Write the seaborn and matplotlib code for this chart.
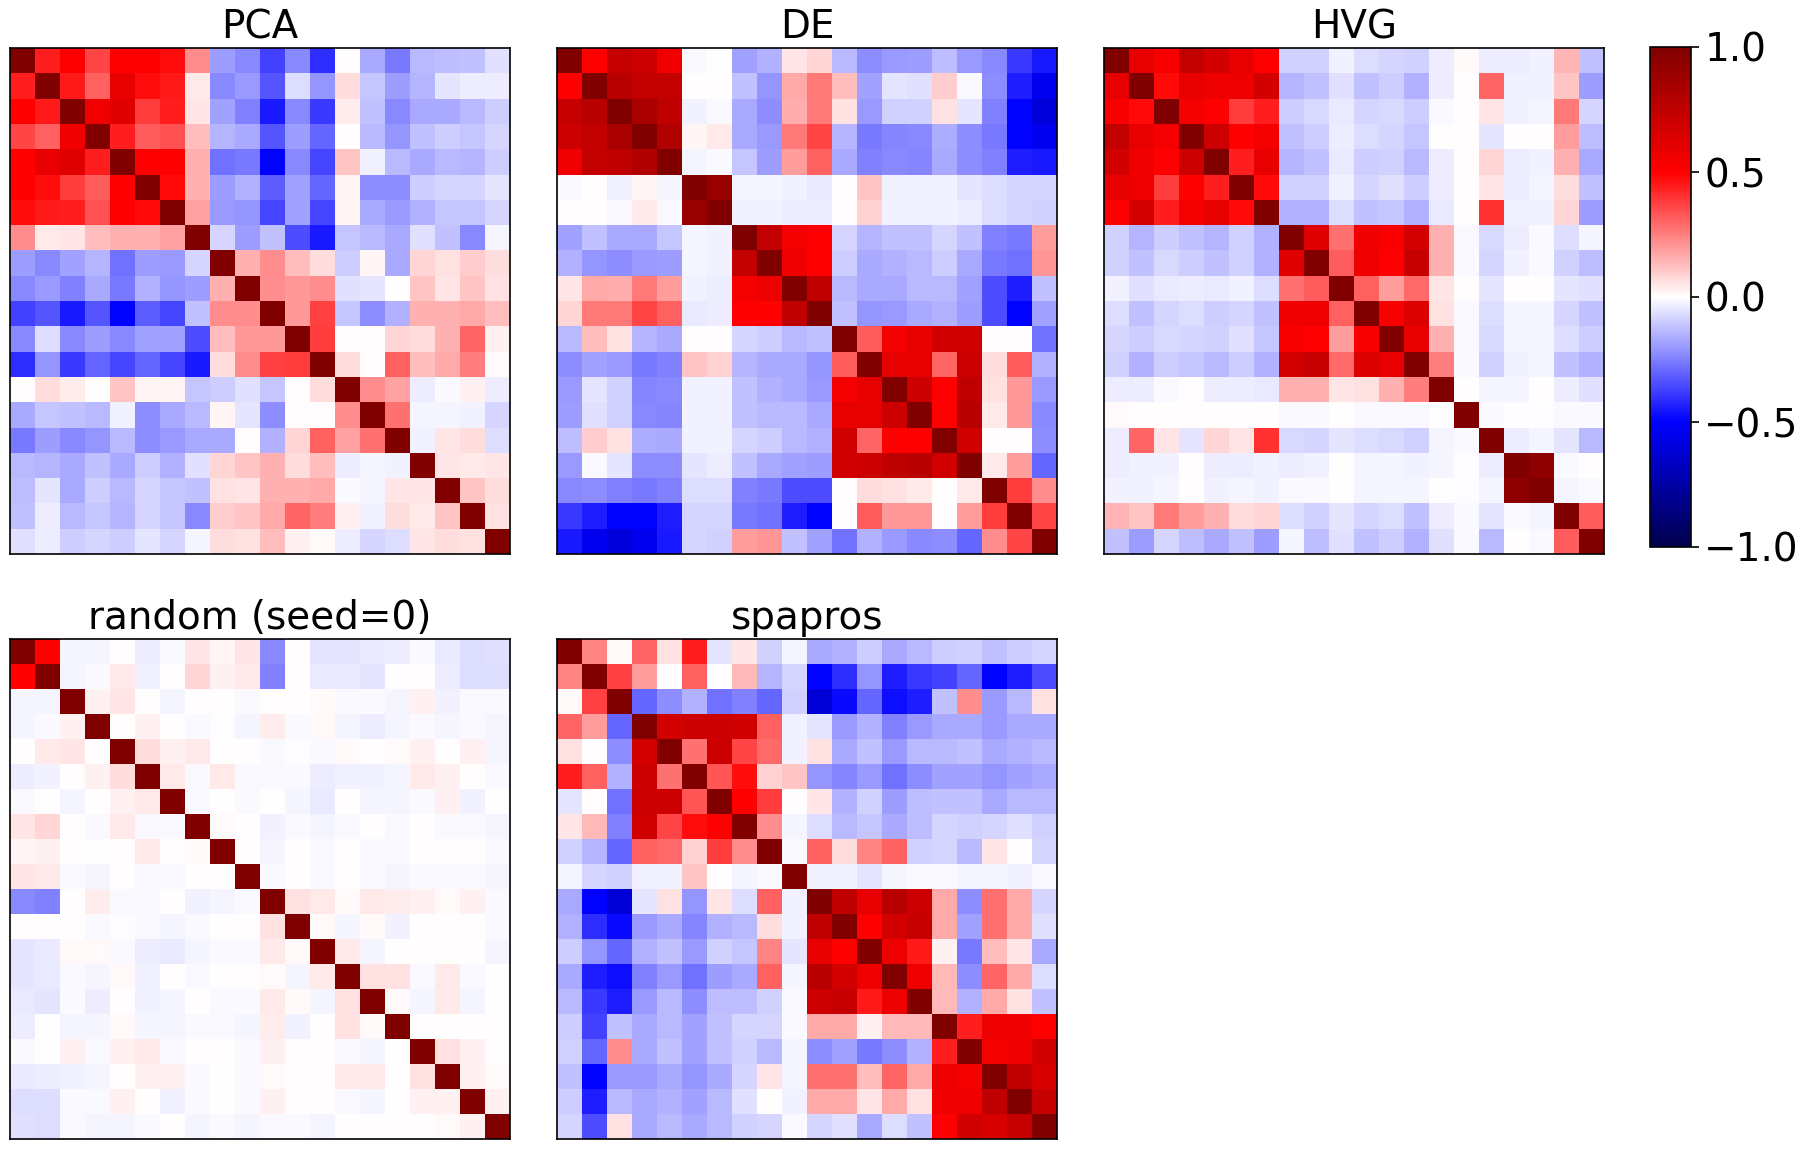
import numpy as np
import matplotlib
matplotlib.use("Agg")
import matplotlib.pyplot as plt
import seaborn as sns

sns.set_style("white")
plt.rcParams['font.family'] = ['DejaVu Sans']
plt.rcParams['text.color'] = 'black'
plt.rcParams['axes.labelcolor'] = 'black'
plt.rcParams['xtick.color'] = 'black'
plt.rcParams['ytick.color'] = 'black'

N = 20
titles = ["PCA", "DE", "HVG", "random (seed=0)", "spapros"]

# Upper triangles (row i holds columns i+1..19); diagonal is 1.
pca_upper = [
    [0.44, 0.5, 0.36, 0.5, 0.5, 0.47, 0.22, -0.19, -0.23, -0.375, -0.23, -0.41, 0.0, -0.17, -0.26, -0.14, -0.13, -0.12, -0.06],
    [0.45, 0.31, 0.59, 0.47, 0.45, 0.04, -0.23, -0.2, -0.33, -0.07, -0.21, 0.07, -0.11, -0.19, -0.145, -0.05, -0.035, -0.035],
    [0.56, 0.62, 0.375, 0.44, 0.05, -0.18, -0.25, -0.45, -0.23, -0.39, 0.035, -0.125, -0.23, -0.17, -0.17, -0.14, -0.1],
    [0.44, 0.32, 0.34, 0.13, -0.145, -0.17, -0.33, -0.19, -0.3, 0.0, -0.14, -0.21, -0.12, -0.1, -0.11, -0.08],
    [0.5, 0.5, 0.155, -0.28, -0.26, -0.5, -0.23, -0.36, 0.11, -0.03, -0.14, -0.17, -0.14, -0.145, -0.1],
    [0.48, 0.155, -0.19, -0.155, -0.32, -0.18, -0.3, 0.02, -0.22, -0.22, -0.1, -0.08, -0.08, -0.05],
    [0.18, -0.2, -0.21, -0.36, -0.18, -0.36, 0.02, -0.17, -0.2, -0.155, -0.11, -0.11, -0.085],
    [-0.08, -0.19, -0.125, -0.35, -0.45, -0.11, -0.14, -0.17, -0.06, -0.125, -0.23, -0.02],
    [0.15, 0.225, 0.125, 0.07, -0.1, 0.02, -0.17, 0.08, 0.06, 0.1, 0.07],
    [0.225, 0.2, 0.225, -0.06, -0.05, 0.0, 0.115, 0.05, 0.11, 0.06],
    [0.2, 0.37, -0.115, -0.22, -0.155, 0.155, 0.15, 0.165, 0.125],
    [0.375, 0.0, 0.0, 0.08, 0.07, 0.155, 0.3, 0.03],
    [0.07, 0.0, 0.31, 0.125, 0.17, 0.25, 0.01],
    [0.22, 0.18, -0.035, -0.015, 0.03, -0.035],
    [0.28, -0.02, -0.02, -0.03, -0.085],
    [-0.03, 0.05, 0.065, -0.07],
    [0.05, 0.04, 0.05],
    [0.115, 0.07],
    [0.06],
]

de_upper = [
    [0.5, 0.72, 0.7, 0.56, -0.015, 0.0, -0.18, -0.15, 0.05, 0.085, -0.135, -0.22, -0.2, -0.19, -0.13, -0.2, -0.23, -0.385, -0.45],
    [0.78, 0.73, 0.73, 0.0, 0.0, -0.125, -0.21, 0.165, 0.265, 0.125, -0.18, -0.05, -0.06, 0.1, -0.015, -0.22, -0.44, -0.54],
    [0.83, 0.75, -0.03, -0.015, -0.17, -0.22, 0.16, 0.265, 0.06, -0.2, -0.09, -0.09, 0.06, -0.05, -0.25, -0.5, -0.6],
    [0.81, 0.02, 0.04, -0.17, -0.2, 0.265, 0.36, -0.145, -0.265, -0.24, -0.23, -0.16, -0.22, -0.26, -0.5, -0.54],
    [-0.02, -0.015, -0.11, -0.19, 0.19, 0.31, -0.17, -0.25, -0.23, -0.24, -0.165, -0.22, -0.25, -0.44, -0.45],
    [0.9, -0.02, -0.02, -0.03, -0.045, 0.0, 0.11, -0.03, -0.03, -0.03, -0.05, -0.07, -0.08, -0.085],
    [-0.03, -0.03, -0.035, -0.035, 0.0, 0.09, -0.03, -0.03, -0.03, -0.035, -0.07, -0.08, -0.09],
    [0.73, 0.54, 0.5, -0.085, -0.145, -0.125, -0.12, -0.085, -0.125, -0.25, -0.265, 0.19],
    [0.57, 0.5, -0.1, -0.17, -0.155, -0.14, -0.1, -0.165, -0.265, -0.28, 0.21],
    [0.75, -0.14, -0.17, -0.17, -0.135, -0.135, -0.18, -0.35, -0.44, -0.125],
    [-0.12, -0.21, -0.2, -0.17, -0.155, -0.19, -0.35, -0.5, -0.18],
    [0.32, 0.54, 0.59, 0.68, 0.68, 0.0, 0.0, -0.28],
    [0.6, 0.6, 0.3, 0.7, 0.07, 0.32, -0.15],
    [0.7, 0.5, 0.75, 0.06, 0.2, -0.2],
    [0.5, 0.78, 0.04, 0.2, -0.23],
    [0.68, 0.0, 0.0, -0.22],
    [0.04, 0.19, -0.3],
    [0.375, 0.22],
    [0.36],
]

hvg_upper = [
    [0.6, 0.53, 0.73, 0.67, 0.6, 0.5, -0.09, -0.09, -0.03, -0.07, -0.08, -0.09, -0.035, 0.015, -0.035, -0.035, -0.03, 0.145, -0.125],
    [0.48, 0.59, 0.57, 0.57, 0.67, -0.145, -0.125, -0.06, -0.12, -0.1, -0.15, -0.035, 0.0, 0.3, -0.03, -0.03, 0.11, -0.19],
    [0.54, 0.5, 0.375, 0.44, -0.1, -0.075, -0.045, -0.08, -0.075, -0.095, -0.015, 0.0, 0.05, -0.03, -0.02, 0.265, -0.08],
    [0.7, 0.5, 0.54, -0.125, -0.1, -0.035, -0.07, -0.08, -0.11, 0.0, 0.0, -0.05, 0.0, 0.0, 0.19, -0.13],
    [0.44, 0.59, -0.145, -0.12, -0.045, -0.1, -0.09, -0.135, -0.035, 0.0, 0.085, -0.035, -0.03, 0.155, -0.17],
    [0.48, -0.09, -0.09, -0.03, -0.08, -0.06, -0.1, -0.035, 0.0, 0.05, -0.035, -0.02, 0.07, -0.125],
    [-0.15, -0.15, -0.07, -0.125, -0.11, -0.155, -0.045, 0.0, 0.4, -0.03, -0.03, 0.085, -0.19],
    [0.62, 0.28, 0.56, 0.53, 0.67, 0.155, -0.015, -0.075, -0.035, -0.015, -0.07, -0.02],
    [0.32, 0.57, 0.5, 0.72, 0.155, -0.015, -0.08, -0.03, -0.015, -0.09, -0.13],
    [0.31, 0.195, 0.29, 0.05, 0.0, -0.05, 0.0, 0.0, -0.05, -0.06],
    [0.53, 0.64, 0.06, -0.015, -0.07, -0.02, -0.02, -0.08, -0.12],
    [0.59, 0.155, -0.015, -0.075, -0.02, -0.02, -0.07, -0.1],
    [0.25, -0.015, -0.09, -0.03, -0.02, -0.12, -0.155],
    [0.0, -0.02, -0.02, 0.0, -0.035, -0.06],
    [-0.015, -0.005, -0.005, -0.015, -0.015],
    [-0.035, -0.02, -0.05, -0.135],
    [0.94, -0.015, 0.0],
    [-0.02, -0.015],
    [0.32],
]

random_upper = [
    [0.5, -0.02, -0.02, 0.0, -0.035, -0.015, 0.05, 0.02, 0.05, -0.23, 0.0, -0.05, -0.05, -0.045, -0.035, -0.015, -0.045, -0.07, -0.06],
    [-0.02, -0.015, 0.04, -0.03, 0.0, 0.08, 0.03, 0.04, -0.25, 0.0, -0.045, -0.045, -0.05, 0.0, 0.0, -0.035, -0.07, -0.07],
    [0.03, 0.05, 0.0, -0.02, 0.0, 0.0, -0.01, 0.0, 0.0, 0.015, -0.015, -0.015, -0.02, 0.025, -0.03, -0.015, -0.015],
    [0.0, 0.025, 0.0, -0.015, -0.005, -0.02, 0.035, -0.015, 0.015, -0.02, -0.035, -0.02, -0.015, -0.02, -0.015, -0.02],
    [0.065, 0.03, 0.04, 0.0, 0.0, -0.015, -0.005, -0.015, 0.01, 0.0, 0.015, 0.025, 0.0, 0.03, -0.02],
    [0.04, -0.015, 0.045, -0.015, -0.015, -0.015, -0.035, -0.03, -0.03, -0.02, 0.045, 0.025, 0.0, -0.01],
    [-0.01, 0.0, -0.01, 0.0, -0.02, -0.045, 0.0, -0.02, -0.02, -0.01, 0.025, -0.03, 0.0],
    [0.015, 0.0, -0.03, -0.015, -0.02, -0.015, 0.0, -0.01, 0.0, -0.01, -0.01, -0.02],
    [0.0, -0.02, 0.0, -0.01, 0.0, -0.01, -0.01, 0.0, 0.0, 0.0, -0.01],
    [-0.015, 0.0, -0.01, 0.0, -0.015, -0.02, -0.015, -0.015, -0.015, -0.02],
    [0.06, 0.045, 0.015, 0.04, 0.035, 0.025, 0.015, 0.025, -0.01],
    [0.015, -0.02, 0.015, -0.03, 0.0, 0.0, 0.0, -0.01],
    [0.045, -0.02, 0.0, 0.0, 0.0, 0.0, -0.02],
    [0.06, 0.06, -0.015, 0.04, -0.015, 0.0],
    [0.015, -0.02, 0.04, -0.02, 0.0],
    [0.0, 0.0, 0.0, 0.0],
    [0.06, 0.03, 0.0],
    [0.025, 0.015],
    [0.025],
]

spapros_upper = [
    [0.235, 0.015, 0.3, 0.06, 0.44, -0.05, 0.05, -0.09, -0.02, -0.17, -0.15, -0.1, -0.17, -0.135, -0.1, -0.09, -0.125, -0.1, -0.08],
    [0.37, 0.19, 0.0, 0.31, 0.0, 0.14, -0.145, -0.08, -0.5, -0.41, -0.21, -0.44, -0.39, -0.375, -0.3, -0.5, -0.44, -0.35],
    [-0.3, -0.22, -0.155, -0.28, -0.25, -0.3, -0.09, -0.61, -0.48, -0.3, -0.47, -0.44, -0.125, 0.225, -0.2, -0.14, 0.06],
    [0.67, 0.7, 0.7, 0.68, 0.31, -0.03, -0.05, -0.2, -0.15, -0.25, -0.2, -0.165, -0.165, -0.2, -0.165, -0.165],
    [0.28, 0.7, 0.36, 0.29, -0.03, 0.06, -0.165, -0.12, -0.2, -0.135, -0.14, -0.125, -0.17, -0.15, -0.135],
    [0.33, 0.47, 0.09, 0.11, -0.21, -0.24, -0.2, -0.28, -0.22, -0.18, -0.18, -0.21, -0.18, -0.165],
    [0.5, 0.375, 0.0, 0.05, -0.15, -0.09, -0.19, -0.13, -0.125, -0.12, -0.165, -0.14, -0.135],
    [0.225, -0.02, -0.07, -0.135, -0.11, -0.17, -0.13, -0.08, -0.09, -0.08, -0.06, -0.09],
    [-0.01, 0.31, 0.07, 0.235, 0.31, -0.09, -0.085, -0.14, 0.05, 0.0, -0.08],
    [-0.03, -0.03, -0.05, -0.02, -0.015, -0.015, -0.02, -0.02, -0.03, -0.015],
    [0.75, 0.59, 0.78, 0.7, 0.165, -0.22, 0.28, 0.17, -0.08],
    [0.5, 0.67, 0.72, 0.165, -0.18, 0.28, 0.17, -0.06],
    [0.57, 0.45, 0.025, -0.265, 0.125, 0.05, -0.17],
    [0.57, 0.14, -0.22, 0.3, 0.17, -0.07],
    [0.135, -0.155, 0.17, 0.06, -0.125],
    [0.44, 0.57, 0.57, 0.5],
    [0.54, 0.56, 0.68],
    [0.75, 0.66],
    [0.72],
]


def build(upper):
    m = np.eye(N)
    for i, row in enumerate(upper):
        m[i, i + 1:] = row
        m[i + 1:, i] = row
    return m


mats = [build(u) for u in (pca_upper, de_upper, hvg_upper, random_upper, spapros_upper)]

W, H = 1804, 1155
fig = plt.figure(figsize=(W / 100, H / 100), dpi=100)

lefts = [10, 557, 1104]
top_rect = (48, 554)
bot_rect = (639, 1139)
rects = [
    (lefts[0], top_rect), (lefts[1], top_rect), (lefts[2], top_rect),
    (lefts[0], bot_rect), (lefts[1], bot_rect),
]

for mat, title, (lx, (ty, by)) in zip(mats, titles, rects):
    ax = fig.add_axes([lx / W, 1 - by / H, 500 / W, (by - ty) / H])
    sns.heatmap(mat, ax=ax, cmap="seismic", vmin=-1, vmax=1, cbar=False,
                xticklabels=False, yticklabels=False, square=False)
    for s in ax.spines.values():
        s.set_visible(True)
        s.set_color("black")
        s.set_linewidth(1.2)
    ax.set_title(title, fontsize=28, pad=7, color="black")

cax = fig.add_axes([1650 / W, 1 - 547 / H, 41 / W, 500 / H])
sm = plt.cm.ScalarMappable(cmap="seismic", norm=plt.Normalize(-1, 1))
cb = fig.colorbar(sm, cax=cax, ticks=[-1, -0.5, 0, 0.5, 1])
cb.ax.tick_params(labelsize=28, length=6, width=1.2, colors="black")
cb.ax.set_yticklabels(["\u22121.0", "\u22120.5", "0.0", "0.5", "1.0"])
cb.outline.set_linewidth(1.2)
cb.outline.set_edgecolor("black")

fig.savefig("out.png", dpi=100)
